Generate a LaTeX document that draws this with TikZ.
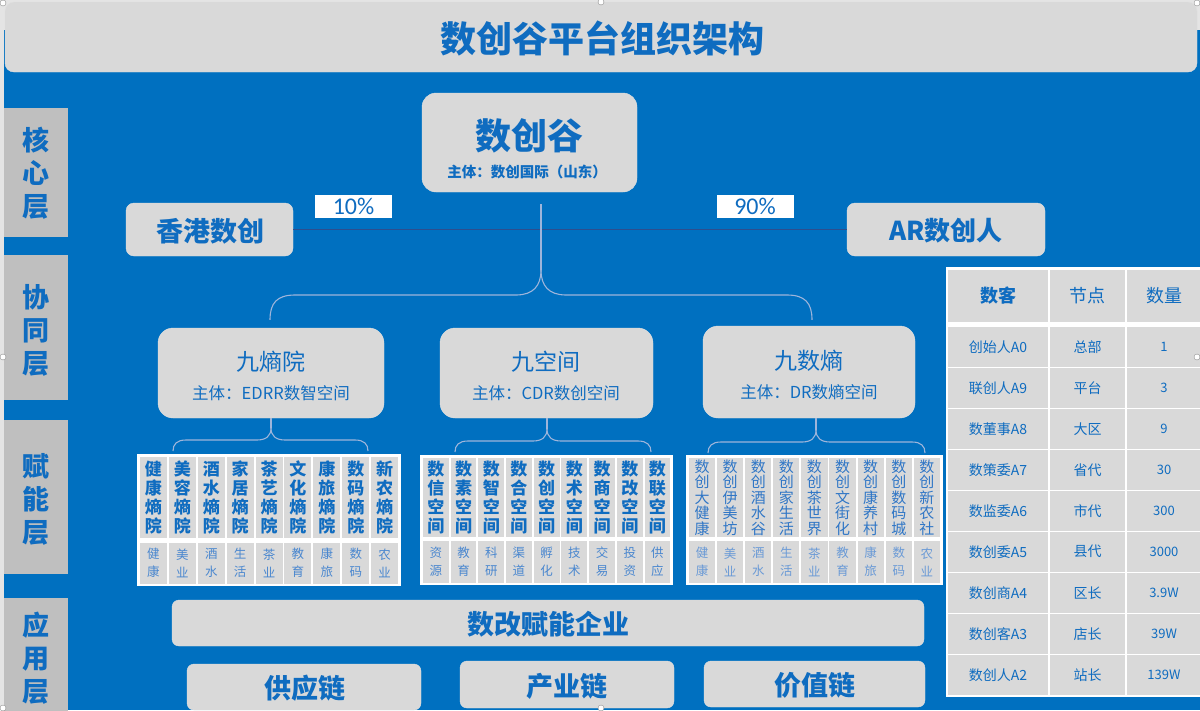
\documentclass[tikz,border=0pt]{standalone}
\usepackage{fontspec}
\setmainfont{Noto Sans CJK SC}
\newfontfamily\latf{Carlito}
\usetikzlibrary{calc}
\definecolor{bgblue}{HTML}{0070C0}
\definecolor{boxgray}{HTML}{D9D9D9}
\definecolor{labgray}{HTML}{BFBFBF}
\definecolor{txtblue}{HTML}{0F6CC0}
\definecolor{midblue}{HTML}{2F76C6}
\definecolor{lightblue}{HTML}{4A87CF}
\definecolor{paleblue}{HTML}{6A9AD6}
\definecolor{navy}{HTML}{2D4E8E}
\definecolor{bracec}{HTML}{9EB5DB}
\definecolor{pagegray}{HTML}{E4E4E4}
\newcommand{\fsz}[2]{\fontsize{#1}{#2}\selectfont}
\begin{document}
\begin{tikzpicture}[x=1pt,y=-1pt,
  gbox/.style={fill=boxgray, draw=black!12, line width=0.4pt, inner sep=0pt},
  labbox/.style={fill=labgray, draw=none, inner sep=0pt, minimum width=64pt},
  labtxt/.style={text=txtblue, align=center, inner sep=0pt, font=\fsz{27}{33}\bfseries},
  txt/.style={text=txtblue, inner sep=0pt, align=center},
  pctbox/.style={fill=white, draw=none, minimum width=77pt, minimum height=23pt, inner sep=0pt, text=txtblue, font=\latf\fsz{24}{24}},
  cellbox/.style={fill=boxgray, draw=none, inner sep=0pt, align=center, text=txtblue},
  bracepen/.style={draw=bracec, line width=1.1pt},
  hlinepen/.style={draw=navy, line width=1pt},
  handle/.style={circle, fill=white, draw=black!45, line width=0.4pt, minimum size=6pt, inner sep=0pt}
]
\useasboundingbox (0,0) rectangle (1200,710);
\clip (0,0) rectangle (1200,710);
% background
\fill[pagegray] (0,0) rectangle (1200,710);
\fill[bgblue] (4,30) rectangle (1200,710);

% title
\node[gbox, rounded corners=9pt, minimum width=1192pt, minimum height=70pt] (title) at (601,37) {};
\node[txt, font=\fsz{36}{40}\bfseries] (titletxt) at (602,38) {数创谷平台组织架构};

% left layer labels
\node[labbox, minimum height=129pt] (L1) at (36,172.5) {};
\node[labtxt] (L1t) at (36,173) {核\\心\\层};
\node[labbox, minimum height=145pt] (L2) at (36,327.5) {};
\node[labtxt] (L2t) at (36,330) {协\\同\\层};
\node[labbox, minimum height=154pt] (L3) at (36,497) {};
\node[labtxt] (L3t) at (36,499) {赋\\能\\层};
\node[labbox, minimum height=116pt] (L4) at (36,656) {};
\node[labtxt] (L4t) at (36,658) {应\\用\\层};

% core layer
\node[gbox, rounded corners=14pt, minimum width=215pt, minimum height=99pt] (top) at (529.5,142.5) {};
\node[txt, font=\fsz{36}{40}\bfseries] (toptxt) at (529,136) {数创谷};
\node[txt, font=\fsz{14.5}{16}\bfseries] (topsub) at (527,172) {主体：数创国际（山东）};

\node[gbox, rounded corners=8pt, minimum width=167pt, minimum height=53pt] (hk) at (209.5,229.5) {};
\node[txt, font=\fsz{27}{30}\bfseries] (hktxt) at (210,231) {香港数创};
\node[gbox, rounded corners=8pt, minimum width=198pt, minimum height=53pt] (ar) at (946,229.5) {};
\node[txt, font=\fsz{26}{30}\bfseries] (artxt) at (946,231) {AR数创人};

\node[pctbox] (p10) at (353.5,206.5) {10\%};
\node[pctbox] (p90) at (755,206.5) {90\%};

\draw[hlinepen] (hk.east) -- (ar.west);

% collaboration layer
\node[gbox, rounded corners=15pt, minimum width=226pt, minimum height=90pt] (c1) at (271,373) {};
\node[txt, font=\fsz{23}{26}] (c1t) at (271,362) {九熵院};
\node[txt, font=\fsz{16.5}{18}] (c1s) at (271,393) {主体：EDRR数智空间};
\node[gbox, rounded corners=15pt, minimum width=213pt, minimum height=90pt] (c2) at (546.5,373) {};
\node[txt, font=\fsz{23}{26}] (c2t) at (546,362) {九空间};
\node[txt, font=\fsz{16.5}{18}] (c2s) at (546,393) {主体：CDR数创空间};
\node[gbox, rounded corners=15pt, minimum width=212pt, minimum height=92pt] (c3) at (809,372) {};
\node[txt, font=\fsz{23}{26}] (c3t) at (809,361) {九数熵};
\node[txt, font=\fsz{16.5}{18}] (c3s) at (809,392) {主体：DR数熵空间};

% big brace from top node
\coordinate (tip) at (541,270);
\draw[bracepen] ($(top.south)+(11.5,12)$) -- (tip);
\draw[bracepen] (tip) .. controls (541,286) and (533,295) .. (516,295) -- (295,295)
  .. controls (277,295) and (270,303) .. ($(c1.north)+(-1,-8)$);
\draw[bracepen] (tip) .. controls (541,286) and (549,295) .. (566,295) -- (787,295)
  .. controls (805,295) and (812,303) .. ($(c3.north)+(3,-6)$);

% small braces
\coordinate (b1) at (271,428);
\draw[bracepen] (c1.south) -- (b1);
\draw[bracepen] (b1) .. controls (271,436) and (266,440) .. (257,440) -- (186,440) .. controls (177,440) and (173,444) .. (173,451);
\draw[bracepen] (b1) .. controls (271,436) and (276,440) .. (285,440) -- (355,440) .. controls (364,440) and (368,444) .. (368,451);
\coordinate (b2) at (547,429);
\draw[bracepen] ($(c2.south)+(0.5,0)$) -- (b2);
\draw[bracepen] (b2) .. controls (547,437) and (542,441) .. (533,441) -- (468,441) .. controls (459,441) and (455,445) .. (455,452);
\draw[bracepen] (b2) .. controls (547,437) and (552,441) .. (561,441) -- (638,441) .. controls (647,441) and (651,445) .. (651,452);
\coordinate (b3) at (816,430);
\draw[bracepen] ($(c3.south)+(7,0)$) -- (b3);
\draw[bracepen] (b3) .. controls (816,438) and (811,442) .. (802,442) -- (721,442) .. controls (712,442) and (708,446) .. (708,453);
\draw[bracepen] (b3) .. controls (816,438) and (821,442) .. (830,442) -- (912,442) .. controls (921,442) and (925,446) .. (925,453);

% table 1
\fill[white] (137,454) rectangle (401,586);
\foreach \t [count=\i from 0] in {{健\\康\\熵\\院},{美\\容\\熵\\院},{酒\\水\\熵\\院},{家\\居\\熵\\院},{茶\\艺\\熵\\院},{文\\化\\熵\\院},{康\\旅\\熵\\院},{数\\码\\熵\\院},{新\\农\\熵\\院}}{
  \node[cellbox, minimum width=27pt, minimum height=81pt, font=\fsz{17}{19}\bfseries] (ta\i) at ({139+28.9*\i+14.45},497.5) {\t};
}
\foreach \t [count=\i from 0] in {{健\\康},{美\\业},{酒\\水},{生\\活},{茶\\业},{教\\育},{康\\旅},{数\\码},{农\\业}}{
  \node[cellbox, minimum width=27pt, minimum height=41pt, font=\fsz{12.5}{18}, text=lightblue] (tb\i) at ({139+28.9*\i+14.45},563) {\t};
}
% table 2
\fill[white] (420,455) rectangle (673,585);
\foreach \t [count=\i from 0] in {{数\\信\\空\\间},{数\\素\\空\\间},{数\\智\\空\\间},{数\\合\\空\\间},{数\\创\\空\\间},{数\\术\\空\\间},{数\\商\\空\\间},{数\\改\\空\\间},{数\\联\\空\\间}}{
  \node[cellbox, minimum width=25.8pt, minimum height=79pt, font=\fsz{17}{19}\bfseries] (tc\i) at ({422+27.7*\i+13.85},497.5) {\t};
}
\foreach \t [count=\i from 0] in {{资\\源},{教\\育},{科\\研},{渠\\道},{孵\\化},{技\\术},{交\\易},{投\\资},{供\\应}}{
  \node[cellbox, minimum width=25.8pt, minimum height=42pt, font=\fsz{12.5}{18}, text=lightblue] (td\i) at ({422+27.7*\i+13.85},562) {\t};
}
% table 3
\fill[white] (686,455) rectangle (943,585);
\foreach \t [count=\i from 0] in {{数\\创\\大\\健\\康},{数\\创\\伊\\美\\坊},{数\\创\\酒\\水\\谷},{数\\创\\家\\生\\活},{数\\创\\茶\\世\\界},{数\\创\\文\\街\\化},{数\\创\\康\\养\\村},{数\\创\\数\\码\\城},{数\\创\\新\\农\\社}}{
  \node[cellbox, minimum width=26.2pt, minimum height=79pt, font=\fsz{15}{15.5}, text=midblue] (te\i) at ({688+28.1*\i+14.05},497.5) {\t};
}
\foreach \t [count=\i from 0] in {{健\\康},{美\\业},{酒\\水},{生\\活},{茶\\业},{教\\育},{康\\旅},{数\\码},{农\\业}}{
  \node[cellbox, minimum width=26.2pt, minimum height=42pt, font=\fsz{12.5}{18}, text=paleblue] (tf\i) at ({688+28.1*\i+14.05},562) {\t};
}

% right table
\fill[white] (946,267) rectangle (1202,697);
\node[cellbox, minimum width=100pt, minimum height=52pt, font=\fsz{18}{20}\bfseries] (h1) at (998,296) {数客};
\node[cellbox, minimum width=75pt, minimum height=52pt, font=\fsz{18}{20}] (h2) at (1087.5,296) {节点};
\node[cellbox, minimum width=74pt, minimum height=52pt, font=\fsz{18}{20}] (h3) at (1164,296) {数量};
\foreach \a/\b/\c [count=\i from 0] in {创始人A0/总部/1,联创人A9/平台/3,数董事A8/大区/9,数策委A7/省代/30,数监委A6/市代/300,数创委A5/县代/3000,数创商A4/区长/3.9W,数创客A3/店长/39W,数创人A2/站长/139W}{
  \node[cellbox, minimum width=100pt, minimum height=39.5pt, font=\fsz{14}{16}] (r\i a) at (998,{327+41*\i+19.75}) {\a};
  \node[cellbox, minimum width=75pt, minimum height=39.5pt, font=\fsz{14}{16}] (r\i b) at (1087.5,{327+41*\i+19.75}) {\b};
  \node[cellbox, minimum width=74pt, minimum height=39.5pt, font=\fsz{13}{16}] (r\i c) at (1164,{327+41*\i+19.75}) {\c};
}

% application layer
\node[gbox, rounded corners=7pt, minimum width=752pt, minimum height=46pt] (ent) at (548,623) {};
\node[txt, font=\fsz{27}{30}\bfseries] (enttxt) at (548,624) {数改赋能企业};
\node[gbox, rounded corners=7pt, minimum width=234pt, minimum height=46pt] (sc) at (304,687) {};
\node[txt, font=\fsz{27}{30}\bfseries] (sctxt) at (305,688) {供应链};
\node[gbox, rounded corners=7pt, minimum width=214pt, minimum height=47pt] (ic) at (567,684.5) {};
\node[txt, font=\fsz{27}{30}\bfseries] (ictxt) at (567,686) {产业链};
\node[gbox, rounded corners=7pt, minimum width=221pt, minimum height=46pt] (vc) at (814.5,684) {};
\node[txt, font=\fsz{27}{30}\bfseries] (vctxt) at (815,685) {价值链};

% selection handles
\node[handle] (hd1) at (3,3) {};
\node[handle] (hd2) at (601,2) {};
\node[handle] (hd3) at (1197,3) {};
\node[handle] (hd4) at (3,357) {};
\node[handle] (hd5) at (1197,357) {};
\node[handle] (hd6) at (3,708) {};
\node[handle] (hd7) at (601,708) {};
\end{tikzpicture}
\end{document}
